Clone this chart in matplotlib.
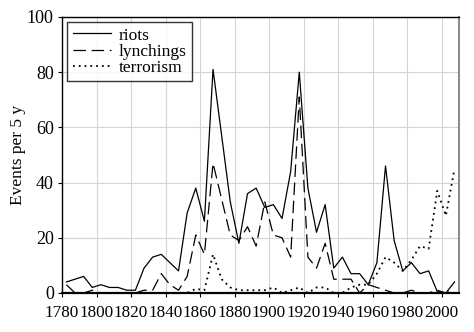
import numpy as np
import matplotlib
matplotlib.use("Agg")
import matplotlib.pyplot as plt

plt.rcParams["font.family"] = ["Liberation Serif", "DejaVu Serif"]

# five-year bins, plotted at bin midpoints
years = np.arange(1782.5, 2010, 5)

riots = [4, 5, 6, 2, 3, 2, 2, 1, 1, 9, 13, 14, 11, 8, 29, 38, 26, 81, 57, 33,
         18, 36, 38, 31, 32, 27, 44, 80, 38, 22, 32, 9, 13, 7, 7, 3, 11, 46, 19,
         8, 11, 7, 8, 0.5, 0, 4]
lynchings = [3, 0, 0, 1, 0, 0, 0, 0, 0, 1, 1, 7, 3, 1, 6, 21, 14, 47, 34, 21,
             19, 24, 17, 33, 21, 20, 13, 71, 13, 9, 18, 5, 5, 5, 0, 3, 2, 1, 0,
             0, 1, 0, 0, 1, 0, 1]
terrorism = [0, 0, 0, 0, 0, 0, 0, 0, 0, 0, 0, 0, 0, 0, 0, 1.5, 1, 14, 5, 2,
             1, 1, 1, 1, 2, 0, 1, 2, 0, 2, 2, 0, 0, 2, 3, 3, 7, 13, 11, 8, 12,
             17, 16, 37, 28, 45]

x_ticks = list(range(1780, 2001, 20))
y_ticks = list(range(0, 101, 20))

fig = plt.figure(figsize=(4.74, 3.32), dpi=100)
ax = fig.add_axes([0.131, 0.1175, 0.837, 0.8315])

ax.plot(years, riots, color="black", lw=0.9, label="riots")
ax.plot(years, lynchings, color="black", lw=0.9, dashes=(10, 4.5), label="lynchings")
ax.plot(years, terrorism, color="black", lw=1.3, dashes=(1, 2.2), label="terrorism")

ax.set_xlim(1780, 2010)
ax.set_ylim(0, 100)
ax.set_xticks(x_ticks)
ax.set_yticks(y_ticks)
ax.grid(True, color="#d4d4d4", lw=0.8)
ax.set_axisbelow(True)

for side in ["left", "top", "bottom"]:
    ax.spines[side].set_color("black")
    ax.spines[side].set_linewidth(1.0)
ax.spines["bottom"].set_linewidth(1.6)
ax.spines["right"].set_color("#888888")
ax.spines["right"].set_linewidth(1.4)

ax.tick_params(axis="both", length=3, width=0.8, direction="out", pad=3)
ax.tick_params(axis="x", labelsize=12.3, pad=6)
ax.tick_params(axis="y", labelsize=13)
ax.set_ylabel("Events per 5 y", fontsize=12.5)
ax.yaxis.set_label_coords(-0.09, 0.5)

leg = ax.legend(loc="upper left", fontsize=12.5, frameon=True, fancybox=False,
                edgecolor="black", handlelength=2.2, handletextpad=0.45,
                labelspacing=0.0, borderpad=0.3, borderaxespad=0.3)
leg.get_frame().set_linewidth(1.0)

fig.savefig("out.png", dpi=100)
